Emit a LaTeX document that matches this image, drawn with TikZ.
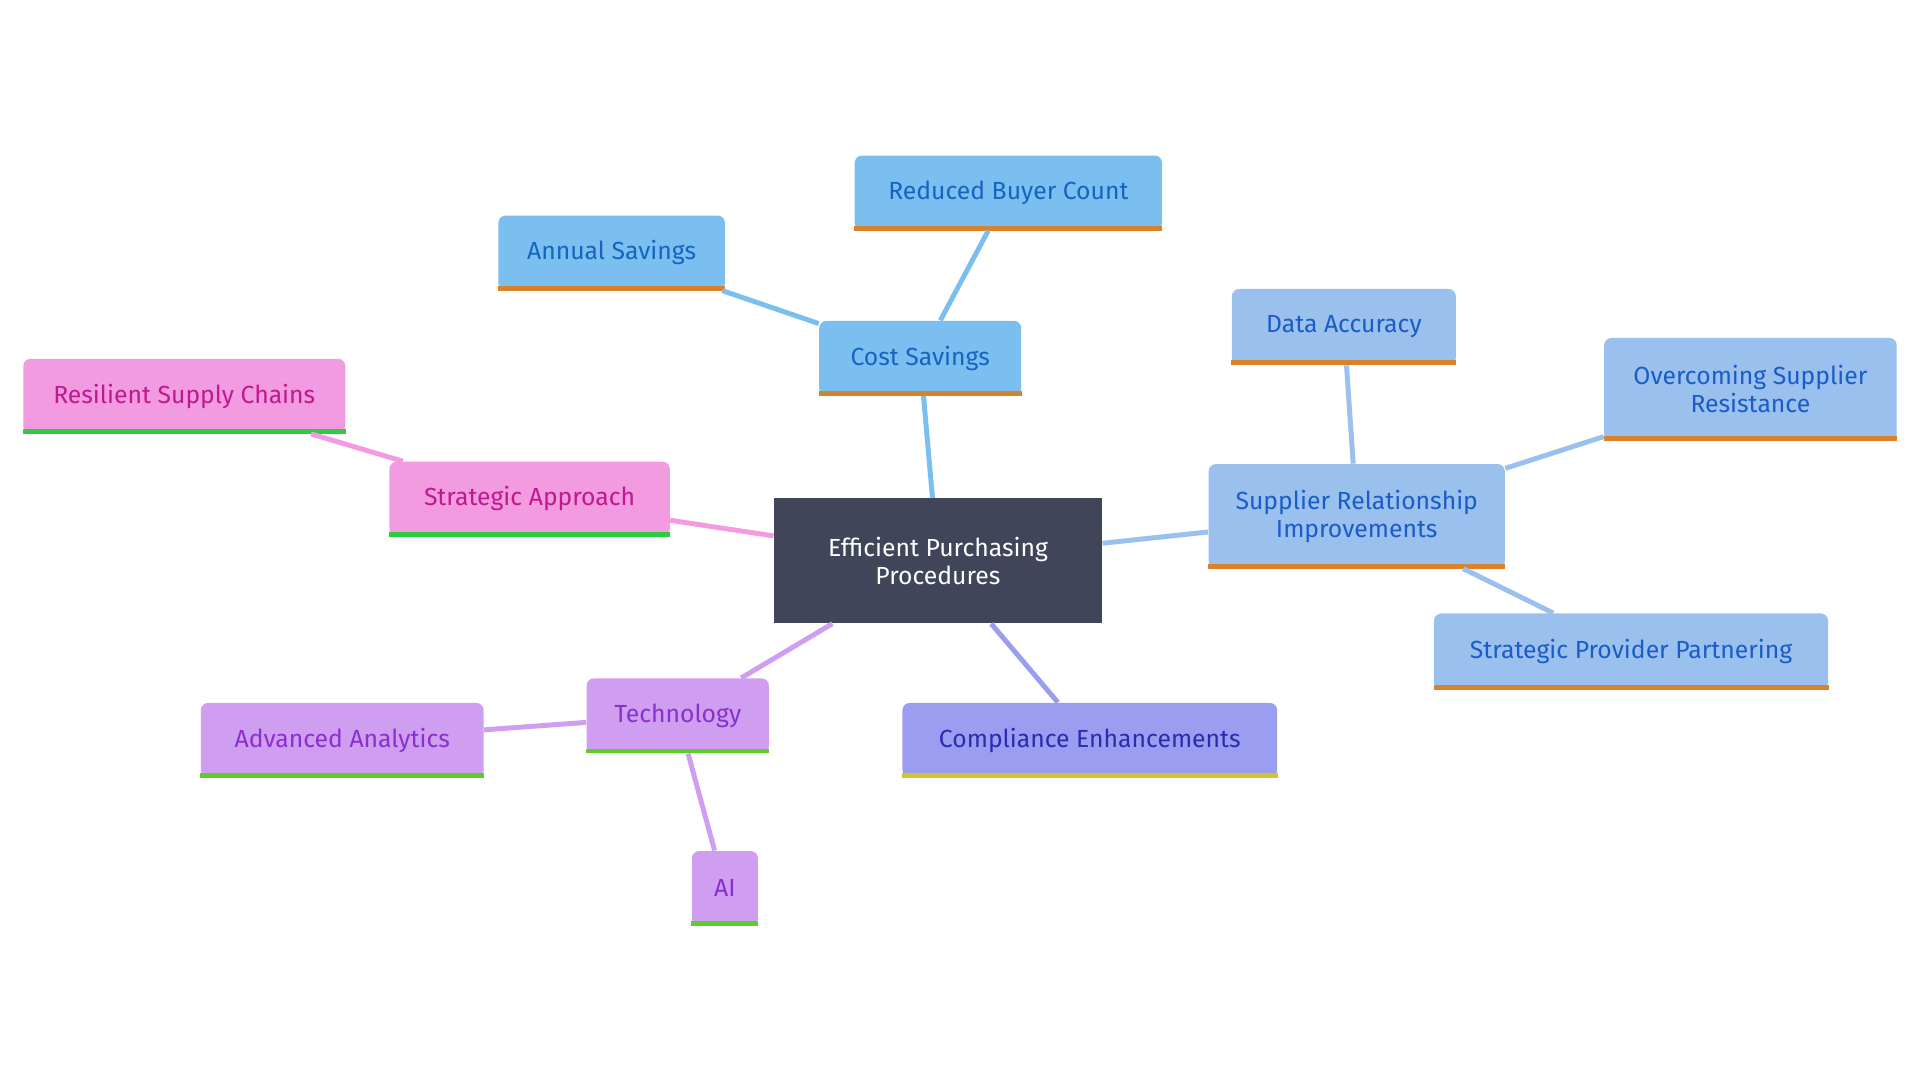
\documentclass[tikz,border=0pt]{standalone}
\usepackage{fontspec}
\setmainfont{Fira Sans}
\definecolor{darkbox}{HTML}{404559}
\definecolor{costfill}{HTML}{7BBFF0}
\definecolor{costtext}{HTML}{1565C0}
\definecolor{supfill}{HTML}{9AC0EE}
\definecolor{suptext}{HTML}{1A5CC8}
\definecolor{pinkfill}{HTML}{F29BE0}
\definecolor{pinktext}{HTML}{C0188F}
\definecolor{purpfill}{HTML}{CF9EF0}
\definecolor{purptext}{HTML}{8A2FD0}
\definecolor{compfill}{HTML}{9B9EF0}
\definecolor{comptext}{HTML}{2B2BB0}
\definecolor{orangebar}{HTML}{D9822B}
\definecolor{greenbar}{HTML}{2BCC3F}
\definecolor{limebar}{HTML}{5ECC2B}
\definecolor{yellowbar}{HTML}{D4C42B}
\begin{document}
\begin{tikzpicture}[x=0.02cm,y=-0.02cm,
  box/.style={rounded corners=0.12cm, inner sep=0pt, align=center,
    minimum height=1.22cm, font=\fontsize{11.5}{13}\selectfont},
  link/.style={line width=2.3pt}]
  \fill[white] (0,0) rectangle (1568,882);
  % root
  \node[box, rounded corners=0pt, fill=darkbox, text=white, minimum width=5.36cm, minimum height=2.04cm] (root) at (766,458) {Efficient Purchasing\\Procedures};
  % cost branch
  \node[box, fill=costfill, text=costtext, minimum width=3.3cm] (cost) at (751.5,292.5) {Cost Savings};
  \node[box, fill=costfill, text=costtext, minimum width=5.02cm] (buyer) at (823.5,157.5) {Reduced Buyer Count};
  \node[box, fill=costfill, text=costtext, minimum width=3.7cm] (annual) at (499.5,206.5) {Annual Savings};
  % supplier branch
  \node[box, fill=supfill, text=suptext, minimum width=4.84cm, minimum height=1.7cm] (supplier) at (1108,421.5) {Supplier Relationship\\Improvements};
  \node[box, fill=supfill, text=suptext, minimum width=3.66cm, minimum height=1.24cm] (data) at (1097.5,267) {Data Accuracy};
  \node[box, fill=supfill, text=suptext, minimum width=4.78cm, minimum height=1.68cm] (resist) at (1429.5,318) {Overcoming Supplier\\Resistance};
  \node[box, fill=supfill, text=suptext, minimum width=6.44cm, minimum height=1.24cm] (partner) at (1332,532) {Strategic Provider Partnering};
  % compliance
  \node[box, fill=compfill, text=comptext, minimum width=6.12cm] (comply) at (890,604.5) {Compliance Enhancements};
  % strategy branch
  \node[box, fill=pinkfill, text=pinktext, minimum width=4.58cm] (strategy) at (432.5,407.5) {Strategic Approach};
  \node[box, fill=pinkfill, text=pinktext, minimum width=5.26cm] (resilient) at (150.5,323.5) {Resilient Supply Chains};
  % technology branch
  \node[box, fill=purpfill, text=purptext, minimum width=2.98cm] (tech) at (553.5,584.5) {Technology};
  \node[box, fill=purpfill, text=purptext, minimum width=4.62cm] (analytics) at (279.5,604.5) {Advanced Analytics};
  \node[box, fill=purpfill, text=purptext, minimum width=1.08cm] (ai) at (592,725.5) {AI};
  % bottom bars
  \foreach \n/\col in {cost/orangebar, buyer/orangebar, annual/orangebar, supplier/orangebar, data/orangebar, resist/orangebar, partner/orangebar, comply/yellowbar, strategy/greenbar, resilient/greenbar, tech/limebar, analytics/limebar, ai/limebar}
    \fill[\col] ([yshift=0.08cm]\n.south west) rectangle (\n.south east);
  % links
  \draw[link, costfill] (root) -- (cost) (cost) -- (buyer) (cost) -- (annual);
  \draw[link, supfill] (root) -- (supplier) (supplier) -- (data) (supplier) -- (resist) (supplier) -- (partner);
  \draw[link, compfill] (root) -- (comply);
  \draw[link, pinkfill] (root) -- (strategy) (strategy) -- (resilient);
  \draw[link, purpfill] (root) -- (tech) (tech) -- (analytics) (tech) -- (ai);
\end{tikzpicture}
\end{document}
